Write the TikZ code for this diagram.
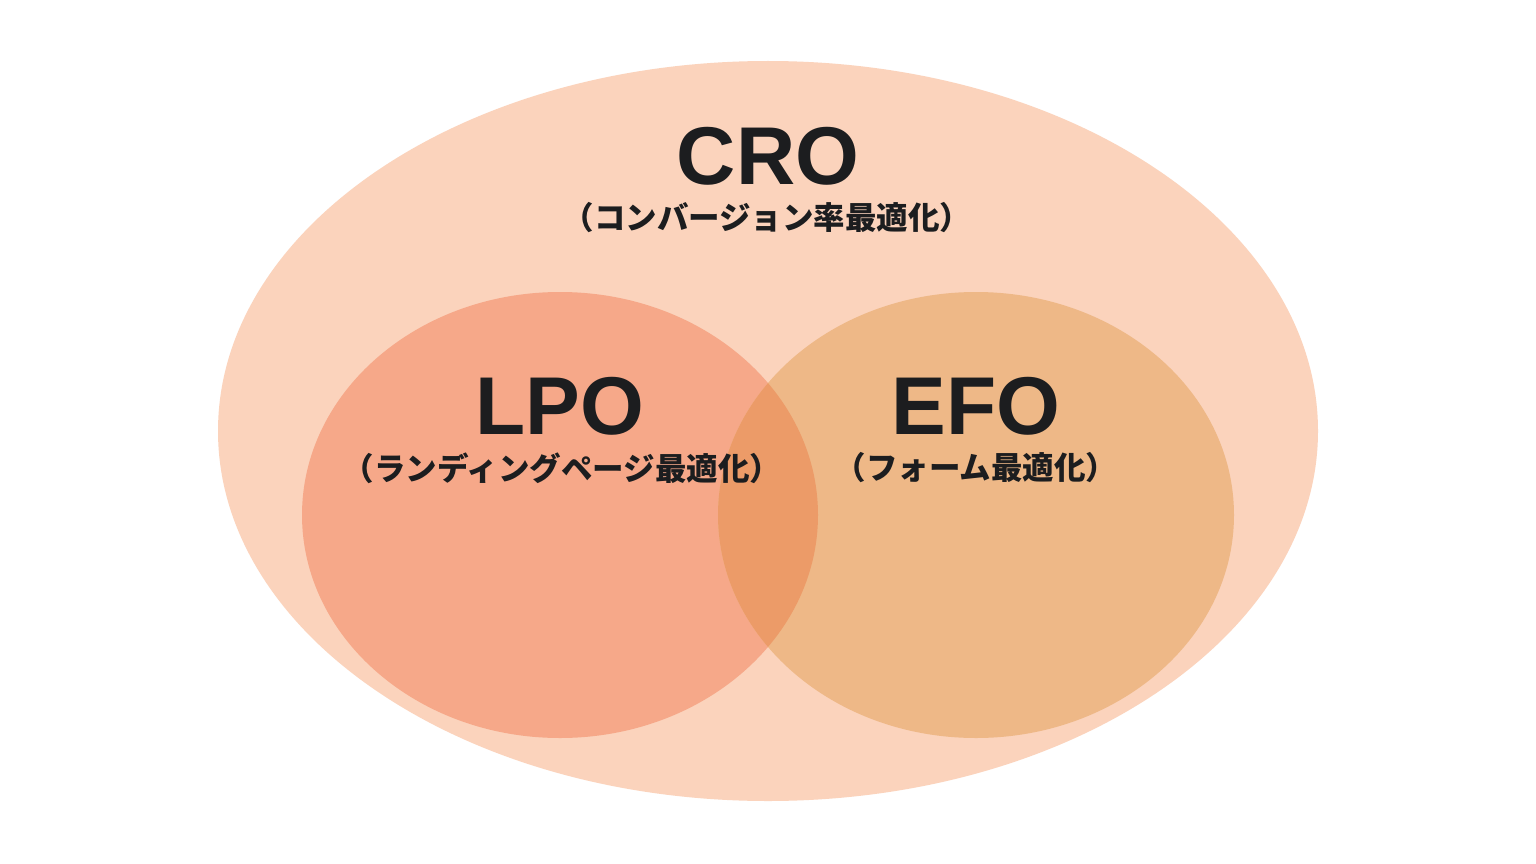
\documentclass[tikz,border=0pt]{standalone}
\usepackage{fontspec}
\setmainfont{Liberation Sans}
\newfontfamily\cjk{Noto Sans CJK JP}
\definecolor{outerc}{HTML}{FBD3BC}
\definecolor{lpoc}{HTML}{F6A889}
\definecolor{efoc}{HTML}{EEB887}
\definecolor{ovc}{HTML}{EC9B68}
\definecolor{txtc}{HTML}{1C1D1F}
\tikzset{
  bigtitle/.style={font=\fontsize{82}{82}\selectfont\bfseries, text=txtc, inner sep=0pt, anchor=center},
  subtitle/.style={font=\cjk\fontsize{31.5}{31.5}\selectfont\bfseries, text=txtc, inner sep=0pt, anchor=center}
}
\begin{document}
\begin{tikzpicture}[x=1pt,y=-1pt]
\useasboundingbox (0,0) rectangle (1536,864);
\fill[white] (0,0) rectangle (1536,864);
\fill[outerc] (768,431) ellipse [x radius=550, y radius=370];
\fill[lpoc] (560,515) ellipse [x radius=258, y radius=223];
\fill[efoc] (976,515) ellipse [x radius=258, y radius=223];
\begin{scope}
  \clip (560,515) ellipse [x radius=258, y radius=223];
  \fill[ovc] (976,515) ellipse [x radius=258, y radius=223];
\end{scope}
\node[bigtitle] (cro) at (768,156) {CRO};
\node[subtitle] (crosub) at (767,218) {（コンバージョン率最適化）};
\node[bigtitle] (lpo) at (560,406) {LPO};
\node[subtitle] (lposub) at (562,468) {（ランディングページ最適化）};
\node[bigtitle] (efo) at (976,406) {EFO};
\node[subtitle] (efosub) at (976,468) {（フォーム最適化）};
\end{tikzpicture}
\end{document}
